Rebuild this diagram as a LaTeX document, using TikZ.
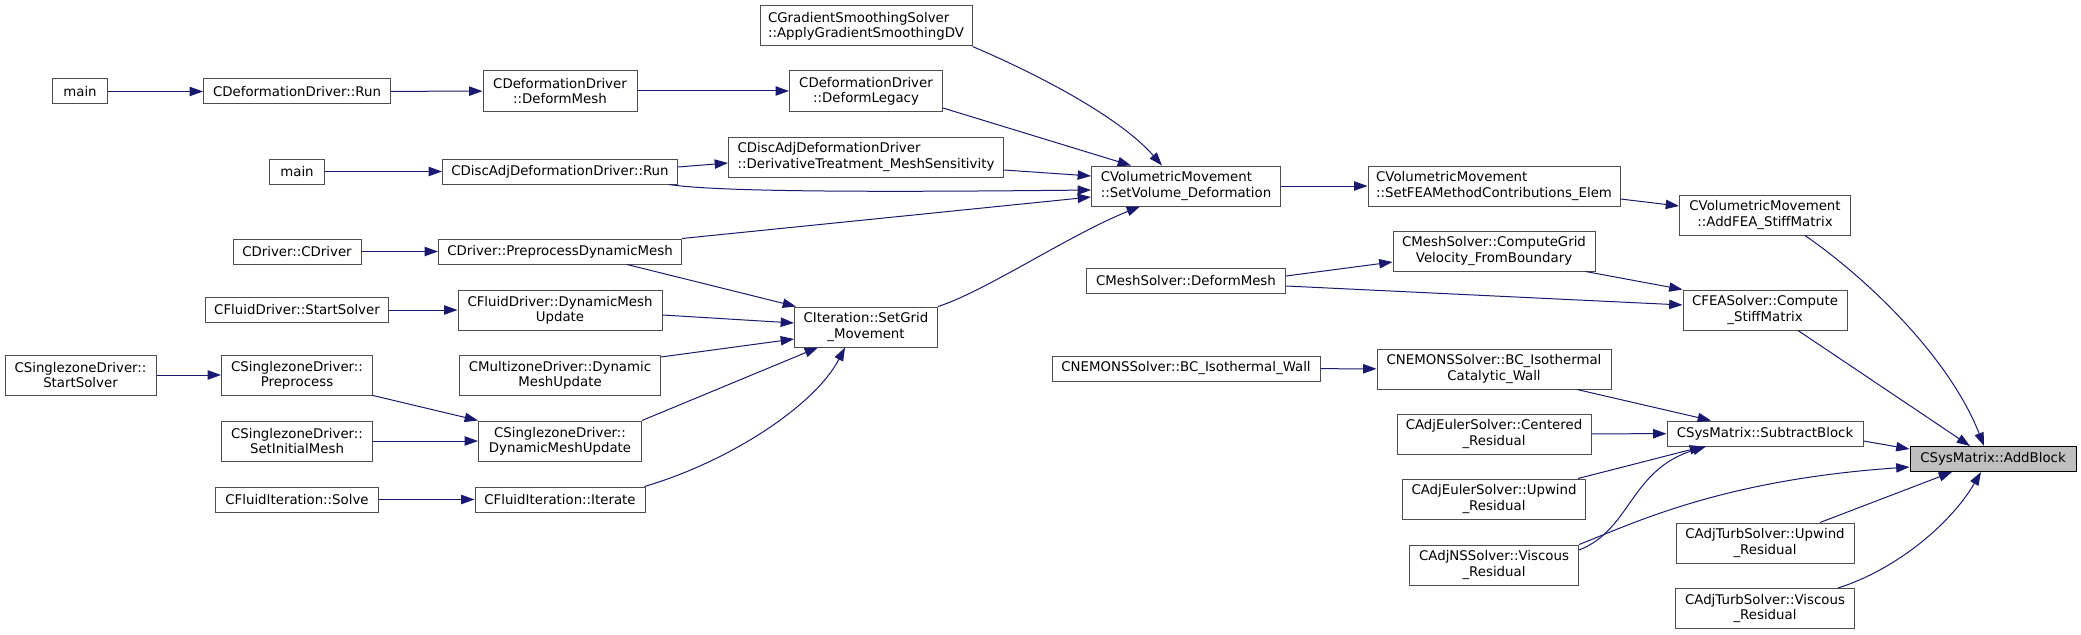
\documentclass[tikz,border=0pt]{standalone}
\usepackage{fontspec}
\setmainfont{DejaVu Sans}
\usetikzlibrary{arrows.meta, calc}

\definecolor{callblue}{HTML}{191970}
\definecolor{boxgray}{HTML}{4D4D4D}
\definecolor{curgray}{HTML}{BFBFBF}

\begin{document}
\begin{tikzpicture}[
    x=0.75pt, y=-0.75pt,      % 1単位 = 1px（下向きが正）
    >={Triangle[length=10pt, width=7pt]},
    font=\fontsize{10}{11.5}\selectfont,
    % 関数ノードのスタイル
    box/.style={draw=boxgray, fill=white, line width=0.75pt, inner sep=0pt, align=center},
    cur/.style={box, draw=black, fill=curgray},
    sz/.style 2 args={minimum width=#1*0.75pt, minimum height=#2*0.75pt},
    % 呼び出し矢印のスタイル
    call/.style={->, draw=callblue, line width=0.75pt}
]
    \useasboundingbox (0,0) rectangle (2081,635);

    % --- 1. 左側の呼び出し元 ---
    \node [box, sz={55}{25}]  (mainA)      at (80, 91.5)   {main};
    \node [box, sz={55}{25}]  (mainB)      at (297, 171.5) {main};
    \node [box, sz={187}{25}] (defRun)     at (297, 91.5)  {CDeformationDriver::Run};
    \node [box, sz={128}{25}] (cDriver)    at (297, 251.5) {CDriver::CDriver};
    \node [box, sz={183}{25}] (fluidStart) at (297, 310)   {CFluidDriver::StartSolver};
    \node [box, sz={151}{40}] (szStart)    at (80.5, 375)  {CSinglezoneDriver::\\StartSolver};
    \node [box, sz={151}{40}] (szPre)      at (297, 375)   {CSinglezoneDriver::\\Preprocess};
    \node [box, sz={151}{40}] (szInit)     at (297, 441)   {CSinglezoneDriver::\\SetInitialMesh};
    \node [box, sz={163}{25}] (fiSolve)    at (297, 499.5) {CFluidIteration::Solve};

    % --- 2. ドライバ層 ---
    \node [box, sz={154}{40}] (defMesh)    at (560, 91)    {CDeformationDriver\\::DeformMesh};
    \node [box, sz={235}{25}] (discRun)    at (560, 171.5) {CDiscAdjDeformationDriver::Run};
    \node [box, sz={243}{25}] (preDyn)     at (560, 251.5) {CDriver::PreprocessDynamicMesh};
    \node [box, sz={204}{40}] (fluidDyn)   at (560, 310)   {CFluidDriver::DynamicMesh\\Update};
    \node [box, sz={201}{40}] (mzDyn)      at (560, 375)   {CMultizoneDriver::Dynamic\\MeshUpdate};
    \node [box, sz={163}{40}] (szDyn)      at (560, 441)   {CSinglezoneDriver::\\DynamicMeshUpdate};
    \node [box, sz={170}{25}] (fiIter)     at (560, 499.5) {CFluidIteration::Iterate};

    \node [box, sz={212}{40}, align=left] (gradSmooth) at (866, 26)  {CGradientSmoothingSolver\\::ApplyGradientSmoothingDV};
    \node [box, sz={153}{40}] (defLegacy)  at (866, 91)    {CDeformationDriver\\::DeformLegacy};
    \node [box, sz={275}{40}, align=left] (derivTreat) at (866, 157) {CDiscAdjDeformationDriver\\::DerivativeTreatment\_MeshSensitivity};
    \node [box, sz={143}{40}] (setGrid)    at (866, 327)   {CIteration::SetGrid\\\_Movement};

    % --- 3. メッシュ変形とソルバ ---
    \node [box, sz={189}{40}, align=left] (setVolDef) at (1186, 186) {CVolumetricMovement\\::SetVolume\_Deformation};
    \node [box, sz={199}{25}] (msDeform)   at (1186, 280.5) {CMeshSolver::DeformMesh};
    \node [box, sz={268}{25}] (nemoWall)   at (1186, 368.5) {CNEMONSSolver::BC\_Isothermal\_Wall};

    \node [box, sz={252}{40}, align=left] (setFEA) at (1494, 186) {CVolumetricMovement\\::SetFEAMethodContributions\_Elem};
    \node [box, sz={202}{40}] (compGrid)   at (1494, 251)  {CMeshSolver::ComputeGrid\\Velocity\_FromBoundary};
    \node [box, sz={234}{40}] (nemoCat)    at (1494, 369)  {CNEMONSSolver::BC\_Isothermal\\Catalytic\_Wall};
    \node [box, sz={194}{40}] (adjCent)    at (1494, 434)  {CAdjEulerSolver::Centered\\\_Residual};
    \node [box, sz={183}{40}] (adjUpw)     at (1494, 499)  {CAdjEulerSolver::Upwind\\\_Residual};
    \node [box, sz={169}{40}] (nsVisc)     at (1494, 565)  {CAdjNSSolver::Viscous\\\_Residual};

    \node [box, sz={171}{40}] (addFEA)     at (1765, 215)  {CVolumetricMovement\\::AddFEA\_StiffMatrix};
    \node [box, sz={164}{40}] (feaStiff)   at (1765, 310)  {CFEASolver::Compute\\\_StiffMatrix};
    \node [box, sz={196}{25}] (subBlock)   at (1765, 433.5) {CSysMatrix::SubtractBlock};
    \node [box, sz={178}{40}] (turbUpw)    at (1765, 543)  {CAdjTurbSolver::Upwind\\\_Residual};
    \node [box, sz={179}{40}] (turbVisc)   at (1765, 608.5) {CAdjTurbSolver::Viscous\\\_Residual};

    % 注目する関数
    \node [cur, sz={166}{25}] (addBlock)   at (1993, 459)  {CSysMatrix::AddBlock};

    % --- 4. 呼び出し関係（左から右へ） ---
    \draw [call] (mainA) -- (defRun);
    \draw [call] (defRun) -- (defMesh);
    \draw [call] (defMesh) -- (defLegacy);
    \draw [call] (mainB) -- (discRun);
    \draw [call] (cDriver) -- (preDyn);
    \draw [call] (fluidStart) -- (fluidDyn);
    \draw [call] (szStart) -- (szPre);
    \draw [call] (szInit) -- (szDyn);
    \draw [call] (fiSolve) -- (fiIter);
    \draw [call] (szPre.south east) -- (szDyn.north west);

    \draw [call] ($(discRun.east)+(0,-4.5)$) -- ($(derivTreat.west)+(0,6)$);
    \draw [call] ($(discRun.south east)+(-9,0)$)
        .. controls +(52,8) and +(-190,2) .. ($(setVolDef.west)+(0,4)$);
    \draw [call] ($(derivTreat.east)+(0,13)$) -- ($(setVolDef.west)+(0,-10)$);
    \draw [call] ($(defLegacy.east)+(0,17)$) -- ($(setVolDef.north)+(-55,0)$);
    \draw [call] (gradSmooth.south east)
        .. controls +(68,29) and +(-42,-48) .. ($(setVolDef.north)+(-24,0)$);
    \draw [call] (preDyn.north east) -- ($(setVolDef.west)+(0,11)$);
    \draw [call] (setGrid.north east)
        .. controls +(47,-15) and +(-70,28) .. ($(setVolDef.south)+(-46,0)$);

    % SetGrid_Movement への呼び出し
    \draw [call] ($(preDyn.south)+(67,0)$) -- ($(setGrid.north west)+(2,0)$);
    \draw [call] ($(fluidDyn.east)+(0,5)$) -- ($(setGrid.west)+(0,-4)$);
    \draw [call] ($(mzDyn.east)+(0,-18)$) -- ($(setGrid.west)+(0,12)$);
    \draw [call] (szDyn.north east) -- ($(setGrid.south)+(-48,0)$);
    \draw [call] ($(fiIter.north east)+(-1,0)$)
        .. controls +(85,-25) and +(-30,58) .. ($(setGrid.south)+(-21,0)$);

    % --- 5. 右側（AddBlock まで） ---
    \draw [call] (setVolDef) -- (setFEA);
    \draw [call] ($(setFEA.east)+(0,13)$) -- ($(addFEA.west)+(0,-9)$);
    \draw [call] ($(msDeform.east)+(0,-4.5)$) -- ($(compGrid.west)+(0,11)$);
    \draw [call] ($(msDeform.east)+(0,5.5)$) -- ($(feaStiff.west)+(0,-5)$);
    \draw [call] ($(compGrid.south east)+(-10,0)$) -- (feaStiff.north west);
    \draw [call] (nemoWall) -- (nemoCat);
    \draw [call] ($(nemoCat.south)+(83,0)$) -- ($(subBlock.north)+(-54,0)$);
    \draw [call] (adjCent) -- (subBlock);
    \draw [call] ($(adjUpw.north)+(84,0)$) -- ($(subBlock.south)+(-62,0)$);
    \draw [call] ($(nsVisc.east)+(0,-15)$)
        .. controls +(52,-20) and +(-76,23) .. ($(subBlock.south)+(-59,0)$);

    \draw [call] ($(addFEA.south)+(40,0)$)
        .. controls +(65,45) and +(-34,-87) .. ($(addBlock.north)+(-9,0)$);
    \draw [call] ($(feaStiff.south)+(33,0)$) -- ($(addBlock.north)+(-23,0)$);
    \draw [call] ($(subBlock.east)+(0,7.5)$) -- ($(addBlock.west)+(0,-10)$);
    \draw [call] (nsVisc.north east)
        .. controls +(52,-20) and +(-190,13) .. ($(addBlock.west)+(0,8)$);
    \draw [call] ($(turbUpw.north)+(55,0)$) -- ($(addBlock.south)+(-41,0)$);
    \draw [call] ($(turbVisc.north)+(73,0)$)
        .. controls +(57,-18) and +(-31,53) .. ($(addBlock.south)+(-12,0)$);

\end{tikzpicture}
\end{document}
